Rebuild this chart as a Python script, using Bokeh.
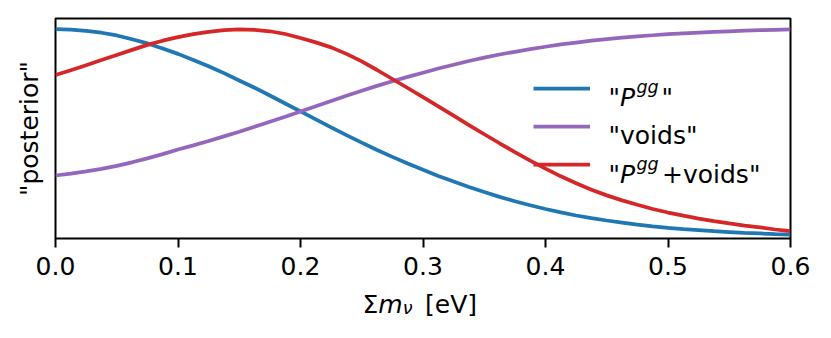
from bokeh.plotting import figure
from bokeh.layouts import column
from bokeh.models import Range1d, FixedTicker, Legend, LegendItem, Label
from bokeh.core.properties import value
from bokeh.embed import file_html
from bokeh.resources import INLINE

# ---- data ----
mnu = [0.0, 0.0125, 0.025, 0.0375, 0.05, 0.0625, 0.075, 0.0875, 0.1, 0.1125, 0.125, 0.1375,
       0.15, 0.1625, 0.175, 0.1875, 0.2, 0.2125, 0.225, 0.2375, 0.25, 0.2625, 0.275, 0.2875,
       0.3, 0.3125, 0.325, 0.3375, 0.35, 0.3625, 0.375, 0.3875, 0.4, 0.4125, 0.425, 0.4375,
       0.45, 0.4625, 0.475, 0.4875, 0.5, 0.5125, 0.525, 0.5375, 0.55, 0.5625, 0.575, 0.5875, 0.6]
post_pgg = [1.000, 0.998, 0.992, 0.983, 0.970, 0.952, 0.932, 0.908, 0.882, 0.853, 0.823, 0.790,
            0.755, 0.720, 0.683, 0.645, 0.607, 0.569, 0.531, 0.494, 0.458, 0.423, 0.390, 0.358,
            0.328, 0.299, 0.272, 0.246, 0.222, 0.199, 0.178, 0.159, 0.141, 0.125, 0.110, 0.097,
            0.086, 0.076, 0.066, 0.058, 0.051, 0.045, 0.040, 0.035, 0.031, 0.027, 0.024, 0.021, 0.019]
post_voids = [0.301, 0.310, 0.321, 0.333, 0.347, 0.364, 0.383, 0.403, 0.425, 0.445, 0.466, 0.488,
              0.510, 0.534, 0.558, 0.582, 0.607, 0.632, 0.657, 0.682, 0.706, 0.729, 0.751, 0.772,
              0.792, 0.812, 0.830, 0.848, 0.864, 0.879, 0.892, 0.905, 0.916, 0.927, 0.936, 0.945,
              0.953, 0.960, 0.966, 0.971, 0.976, 0.980, 0.984, 0.987, 0.990, 0.993, 0.995, 0.997, 0.999]
post_comb = [0.781, 0.804, 0.828, 0.853, 0.877, 0.901, 0.925, 0.945, 0.962, 0.976, 0.987, 0.995,
             0.999, 0.997, 0.990, 0.977, 0.958, 0.937, 0.913, 0.882, 0.846, 0.805, 0.762, 0.719,
             0.675, 0.631, 0.587, 0.542, 0.498, 0.455, 0.413, 0.372, 0.334, 0.297, 0.264, 0.233,
             0.206, 0.182, 0.161, 0.141, 0.124, 0.109, 0.095, 0.083, 0.072, 0.062, 0.053, 0.043, 0.035]
tick_vals = [0.0, 0.1, 0.2, 0.3, 0.4, 0.5, 0.6]
tick_labels = ["0.0", "0.1", "0.2", "0.3", "0.4", "0.5", "0.6"]

FONT = "DejaVu Sans"
BLUE, PURPLE, RED = "#1f77b4", "#9467bd", "#d62728"
FS, FS_SMALL = "25px", "17.5px"

p = figure(width=825, height=288, output_backend="svg", toolbar_location=None,
           x_range=Range1d(0, 0.6), y_range=Range1d(0, 1.051),
           min_border_left=55, min_border_right=35, min_border_top=18, min_border_bottom=50)
p.background_fill_color = "white"
p.border_fill_color = "white"
p.outline_line_color = "black"
p.outline_line_width = 2
p.outline_line_alpha = 1
p.xgrid.visible = False
p.ygrid.visible = False

xa = p.xaxis[0]
xa.ticker = FixedTicker(ticks=tick_vals)
xa.major_label_overrides = {v: s for v, s in zip(tick_vals, tick_labels)}
xa.axis_line_color = None
xa.major_tick_out = 9
xa.major_tick_in = 0
xa.major_tick_line_width = 2
xa.major_tick_line_color = "black"
xa.minor_tick_line_color = None
xa.major_label_text_font = FONT
xa.major_label_text_font_size = FS
xa.major_label_text_color = "black"
xa.major_label_standoff = 9

ya = p.yaxis[0]
ya.ticker = FixedTicker(ticks=[])
ya.axis_line_color = None
ya.major_tick_out = 0
ya.major_tick_in = 0
ya.minor_tick_line_color = None
ya.axis_label = '"posterior"'
ya.axis_label_text_font = FONT
ya.axis_label_text_font_size = FS
ya.axis_label_text_font_style = "normal"
ya.axis_label_text_color = "black"
ya.axis_label_standoff = 12

r1 = p.line(mnu, post_pgg, line_color=BLUE, line_width=3.75)
r2 = p.line(mnu, post_voids, line_color=PURPLE, line_width=3.75)
r3 = p.line(mnu, post_comb, line_color=RED, line_width=3.75)

legend = Legend(items=[LegendItem(label=value(""), renderers=[r1]),
                       LegendItem(label=value(""), renderers=[r2]),
                       LegendItem(label=value(""), renderers=[r3])],
                location=(478, 54.7), orientation="vertical", padding=0, spacing=0, margin=0,
                glyph_width=57, glyph_height=38, label_height=38, label_width=0,
                label_standoff=0, border_line_color=None, background_fill_alpha=0,
                label_text_font_size="1px")
p.add_layout(legend)


def txt(fig, s, x, y, size=FS, style="normal"):
    fig.add_layout(Label(text=s, x=x, y=y, x_units="screen", y_units="screen",
                         text_font=FONT, text_font_size=size, text_font_style=style,
                         text_color="black", text_align="left", text_baseline="alphabetic"))


# legend texts (baselines relative to the frame's bottom-left corner)
txt(p, '"', 553, 141)
txt(p, "P", 564.5, 141, style="italic")
txt(p, "gg", 581, 151.7, size=FS_SMALL, style="italic")
txt(p, '"', 606, 141)

txt(p, '"voids"', 553, 102.7)

txt(p, '"', 553, 64.3)
txt(p, "P", 564.5, 64.3, style="italic")
txt(p, "gg", 581, 75, size=FS_SMALL, style="italic")
txt(p, '+voids"', 606.5, 64.3)

# x-axis label strip:  Σ m_ν [eV]  (its frame is aligned with the main frame)
q = figure(width=825, height=42, output_backend="svg", toolbar_location=None,
           x_range=Range1d(0, 1), y_range=Range1d(0, 1),
           x_axis_location=None, y_axis_location=None,
           min_border_left=0, min_border_right=0, min_border_top=0, min_border_bottom=0)
q.outline_line_color = None
q.xgrid.visible = False
q.ygrid.visible = False
q.background_fill_color = "white"
q.border_fill_color = "white"

txt(q, "Σ", 307, 26.5)
txt(q, "m", 322.8, 26.5, style="italic")
txt(q, "ν", 347.2, 22.5, size=FS_SMALL, style="italic")
txt(q, "[eV]", 369.5, 26.5)

layout = column(p, q, spacing=0)
open("out.html", "w").write(file_html(layout, INLINE))
